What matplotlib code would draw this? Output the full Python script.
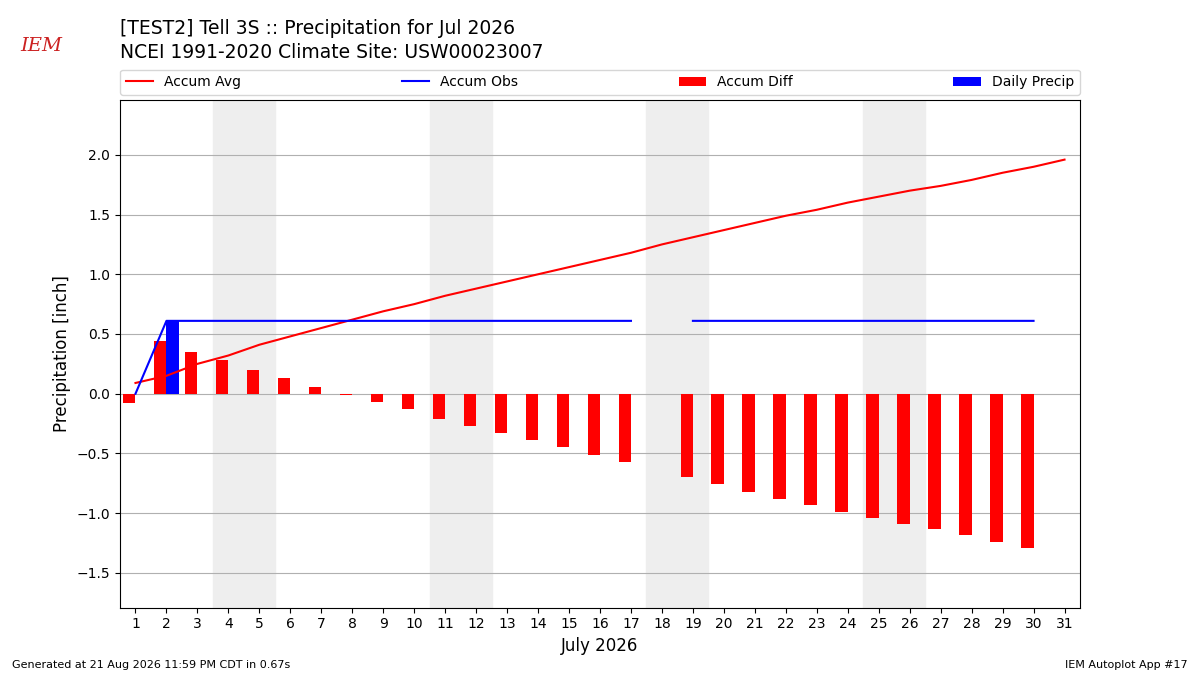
import numpy as np
import matplotlib
matplotlib.use("Agg")
import matplotlib.pyplot as plt

days = np.arange(1, 32)
accum_avg = [0.09, 0.15, 0.25, 0.32, 0.41, 0.48, 0.55, 0.62, 0.69, 0.75, 0.82, 0.88,
             0.94, 1.00, 1.06, 1.12, 1.18, 1.25, 1.31, 1.37, 1.43, 1.49, 1.54, 1.60,
             1.65, 1.70, 1.74, 1.79, 1.85, 1.90, 1.96]
accum_obs = [0.0] + [0.61] * 16 + [np.nan] + [0.61] * 12 + [np.nan]
accum_diff = [-0.08, 0.44, 0.35, 0.28, 0.20, 0.13, 0.06, -0.01, -0.07, -0.13, -0.21,
              -0.27, -0.33, -0.39, -0.45, -0.51, -0.57, np.nan, -0.70, -0.76, -0.82,
              -0.88, -0.93, -0.99, -1.04, -1.09, -1.13, -1.18, -1.24, -1.29, np.nan]
daily_days = [2]
daily_precip = [0.61]
weekends = [4, 11, 18, 25]

fig = plt.figure(figsize=(12, 6.75), dpi=100)
ax = fig.add_axes([0.1, 0.1, 0.8, 0.752])

for w in weekends:
    ax.axvspan(w - 0.5, w + 1.5, color="#eeeeee", zorder=0)

ax.plot(days, accum_avg, color="r", label="Accum Avg", zorder=3)
ax.plot(days, accum_obs, color="b", label="Accum Obs", zorder=3)
ax.bar(days - 0.2, accum_diff, width=0.4, color="r", label="Accum Diff", zorder=2)
ax.bar(np.array(daily_days) + 0.2, daily_precip, width=0.4, color="b", label="Daily Precip", zorder=2)

ax.set_xlim(0.5, 31.5)
ax.set_ylim(-1.79, 2.46)
ax.set_xticks(days)
ax.set_yticks([-1.5, -1.0, -0.5, 0.0, 0.5, 1.0, 1.5, 2.0])
ax.grid(axis="y", color="#b0b0b0")
ax.set_axisbelow(True)
ax.set_xlabel("July 2026", fontsize=12)
ax.set_ylabel("Precipitation [inch]", fontsize=12)
ax.legend(loc="lower left", bbox_to_anchor=(0, 1.01, 1, 0.05), ncol=4, mode="expand",
          borderaxespad=0, fontsize=10)

fig.text(0.1, 0.972, "[TEST2] Tell 3S :: Precipitation for Jul 2026", fontsize=13.5, va="top")
fig.text(0.1, 0.937, "NCEI 1991-2020 Climate Site: USW00023007", fontsize=13.5, va="top")
fig.text(0.017, 0.925, "IEM", color="#cc2222", fontsize=14, style="italic", family="serif")
fig.text(0.01, 0.01, "Generated at 21 Aug 2026 11:59 PM CDT in 0.67s", fontsize=8)
fig.text(0.99, 0.01, "IEM Autoplot App #17", fontsize=8, ha="right")

fig.savefig("out.png")
